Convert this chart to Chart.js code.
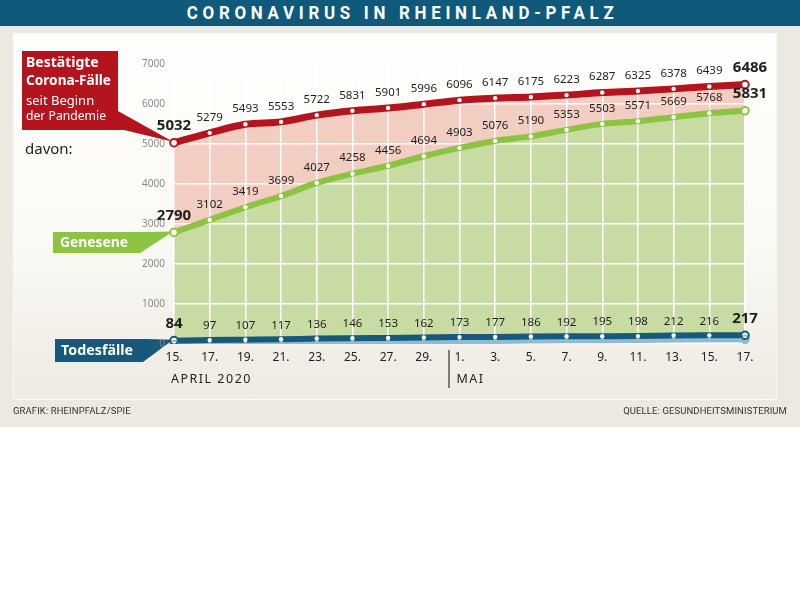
<!DOCTYPE html>
<html><head><meta charset="utf-8">
<script src="https://cdn.jsdelivr.net/npm/chart.js@4/dist/chart.umd.min.js"></script>
<style>
html,body{margin:0;padding:0;background:#fff;width:800px;height:608px;overflow:hidden;font-family:"Noto Sans",sans-serif}
#title{position:absolute;left:0;top:0;width:800px;height:26px;background:#0f5a7b;color:#fff;display:flex;align-items:center;justify-content:center}
#title span{display:inline-block;font:bold 18px Roboto,sans-serif;letter-spacing:5px;transform:scaleX(0.94);white-space:nowrap;line-height:26px;margin-left:5px}
#bg{position:absolute;left:0;top:26px;width:800px;height:401px;background:#ece9e1}
#panel{position:absolute;left:13px;top:33px;width:762px;height:365px;border:1px solid #fbfaf6;background:linear-gradient(180deg,#fefefc 0%,#fbfaf6 55%,#f2efe8 85%,#eeebe3 100%)}
#c{position:absolute;left:0;top:26px}
.foot{position:absolute;top:405px;font:9.5px Roboto,sans-serif;color:#333;white-space:nowrap;letter-spacing:0.1px}
</style></head>
<body>
<div id="title"><span>CORONAVIRUS IN RHEINLAND-PFALZ</span></div>
<div id="bg"></div>
<div id="panel"></div>
<canvas id="c" width="800" height="401"></canvas>
<div class="foot" style="left:13px">GRAFIK: RHEINPFALZ/SPIE</div>
<div class="foot" style="right:13px">QUELLE: GESUNDHEITSMINISTERIUM</div>
<script>
const dateLabels = ['15.','17.','19.','21.','23.','25.','27.','29.','1.','3.','5.','7.','9.','11.','13.','15.','17.'];
const confirmed = [5032,5279,5493,5553,5722,5831,5901,5996,6096,6147,6175,6223,6287,6325,6378,6439,6486];
const recovered = [2790,3102,3419,3699,4027,4258,4456,4694,4903,5076,5190,5353,5503,5571,5669,5768,5831];
const deaths = [84,97,107,117,136,146,153,162,173,177,186,192,195,198,212,216,217];
const monthLabels = ['APRIL 2020','MAI'];
const seriesNames = ['Genesene','Todesfälle'];

const RED='#b3141d', GREEN='#8cc340', BLUE='#16597a';

function endPt(color){
  return {
    pointRadius: c => (c.dataIndex===0||c.dataIndex===c.dataset.data.length-1)?3.8:2.2,
    pointBackgroundColor:'#ffffff',
    pointBorderColor: c => (c.dataIndex===0||c.dataIndex===c.dataset.data.length-1)?color:'#ffffff',
    pointBorderWidth: c => (c.dataIndex===0||c.dataIndex===c.dataset.data.length-1)?2:0
  };
}

const bandPlugin = {
  id:'band',
  beforeDatasetDraw(chart,args){ if(args.index===2){const c=chart.ctx;c.save();c.shadowColor='#8fbcd4';c.shadowOffsetY=4;c.shadowBlur=0;} },
  afterDatasetDraw(chart,args){ if(args.index===2){chart.ctx.restore();} }
};

const calloutPlugin = {
  id:'callouts',
  beforeDatasetsDraw(chart){
    const ctx=chart.ctx;
    const p0=chart.getDatasetMeta(0).data[0], p1=chart.getDatasetMeta(1).data[0], p2=chart.getDatasetMeta(2).data[0];
    ctx.save();
    ctx.fillStyle=RED;
    ctx.beginPath();
    ctx.moveTo(22,25);ctx.lineTo(118,25);ctx.lineTo(118,85);ctx.lineTo(p0.x-1,p0.y-1);ctx.lineTo(124,104);ctx.lineTo(22,104);ctx.closePath();ctx.fill();
    ctx.fillStyle=GREEN;
    ctx.beginPath();
    ctx.moveTo(53,206);ctx.lineTo(146,206);ctx.lineTo(p1.x-1,p1.y-1);ctx.lineTo(140,227);ctx.lineTo(53,227);ctx.closePath();ctx.fill();
    ctx.fillStyle=BLUE;
    ctx.beginPath();
    ctx.moveTo(55,313);ctx.lineTo(146,313);ctx.lineTo(p2.x-1,p2.y-1);ctx.lineTo(143,336);ctx.lineTo(55,336);ctx.closePath();ctx.fill();

    ctx.fillStyle='#ffffff';
    ctx.textBaseline='middle';ctx.textAlign='left';
    ctx.font='bold 14px "Noto Sans"';
    ctx.fillText('Bestätigte',26,37,80);
    ctx.fillText('Corona-Fälle',26,55,85);
    ctx.font='13px "Noto Sans"';
    ctx.fillText('seit Beginn',26,75,72);
    ctx.fillText('der Pandemie',26,90,80);
    ctx.textAlign='center';
    ctx.font='bold 15px "Noto Sans"';
    ctx.fillText(seriesNames[0],94,217,68);
    ctx.fillText(seriesNames[1],97,325,72);
    ctx.fillStyle='#1e1e1e';
    ctx.textAlign='left';
    ctx.font='15px "Noto Sans"';
    ctx.fillText('davon:',25,124,51);

    const xs=chart.scales.x;
    const xA=xs.getPixelForValue(0), xM=xs.getPixelForValue(8);
    ctx.font='12.5px "Noto Sans"';
    ctx.fillStyle='#222';
    ctx.letterSpacing='1.5px';
    ctx.fillText(monthLabels[0],xA-3,353);
    ctx.fillText(monthLabels[1],xM-3,353);
    ctx.letterSpacing='0px';
    ctx.strokeStyle='#555';ctx.lineWidth=1.5;
    ctx.beginPath();ctx.moveTo(xM-10.5,324);ctx.lineTo(xM-10.5,362);ctx.stroke();
    ctx.restore();
  }
};

const labelPlugin = {
  id:'vals',
  afterDatasetsDraw(chart){
    const ctx=chart.ctx;
    ctx.save();
    ctx.textAlign='center';ctx.textBaseline='middle';ctx.fillStyle='#1e1e1e';
    chart.data.datasets.forEach((ds,di)=>{
      const meta=chart.getDatasetMeta(di);
      const n=ds.data.length;
      meta.data.forEach((pt,i)=>{
        const end=(i===0||i===n-1);
        ctx.font=end?'bold 15px "Noto Sans"':'11.5px "Noto Sans"';
        const dx=(i===n-1&&di<2)?5:0;
        const dy=end?17:(di===2?14:15.5);
        ctx.fillText(String(ds.data[i]),pt.x+dx,pt.y-dy);
      });
    });
    ctx.restore();
  }
};

new Chart(document.getElementById('c'),{
  type:'line',
  data:{
    labels:dateLabels,
    datasets:[
      Object.assign({label:'Bestätigte Corona-Fälle',data:confirmed,borderColor:RED,borderWidth:7,backgroundColor:'#f2cdc1',fill:'+1',tension:0.3,cubicInterpolationMode:'monotone',borderCapStyle:'round'},endPt(RED)),
      Object.assign({label:'Genesene',data:recovered,borderColor:GREEN,borderWidth:6,backgroundColor:'#c8dba3',fill:'+1',tension:0.3,cubicInterpolationMode:'monotone',borderCapStyle:'round'},endPt(GREEN)),
      Object.assign({label:'Todesfälle',data:deaths,borderColor:BLUE,borderWidth:6,backgroundColor:'rgba(0,0,0,0)',fill:false,tension:0.3,cubicInterpolationMode:'monotone',borderCapStyle:'butt'},endPt(BLUE))
    ]
  },
  options:{
    responsive:false,animation:false,events:[],
    layout:{padding:{left:0,right:55,top:38,bottom:0}},
    plugins:{legend:{display:false},tooltip:{enabled:false},filler:{drawTime:'beforeDraw'}},
    scales:{
      x:{type:'category',offset:false,
        grid:{color:'#ffffff',lineWidth:1.5,drawTicks:false},border:{display:false},
        ticks:{font:{family:'Noto Sans',size:12},color:'#222',padding:6,maxRotation:0,autoSkip:false},
        afterFit(s){s.height=83;}},
      y:{min:0,max:7000,
        grid:{color:'#ffffff',lineWidth:1.5,drawTicks:false},border:{display:false},
        ticks:{stepSize:1000,font:{family:'Noto Sans',size:10},color:'#8a8a8a',padding:9,z:1,callback:v=>String(v)},
        afterFit(s){s.width=174;}}
    }
  },
  plugins:[bandPlugin,calloutPlugin,labelPlugin]
});
</script>
</body></html>
